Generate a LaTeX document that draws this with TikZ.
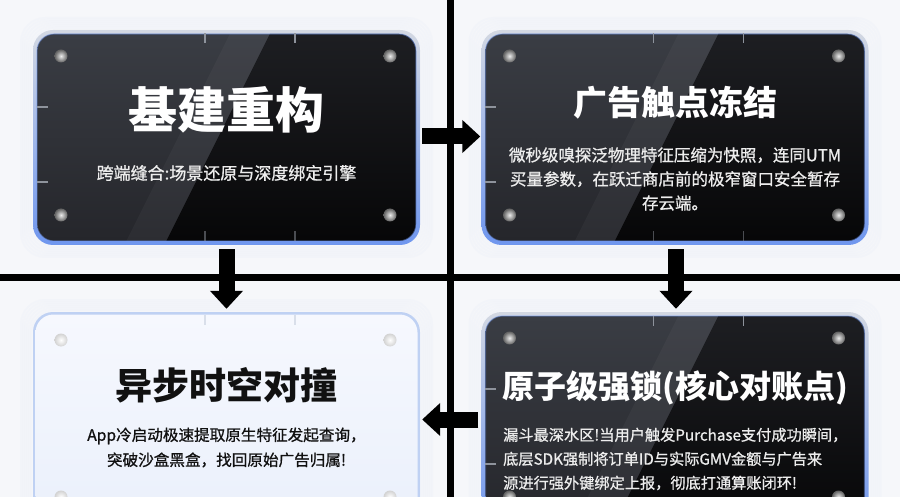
\documentclass[tikz,border=0pt]{standalone}
\usepackage{fontspec}
\setmainfont{Noto Sans CJK SC}
\newfontfamily\medfont{Noto Sans CJK SC}[FakeBold=0.9]
\usetikzlibrary{arrows.meta,calc}
\definecolor{bgc}{HTML}{F6F7FA}
\definecolor{halo}{HTML}{A9BFEF}
\definecolor{frametop}{HTML}{D3D8E2}
\definecolor{framebot}{HTML}{6F96EE}
\definecolor{innertop}{HTML}{3A3D44}
\definecolor{innerbot}{HTML}{25262B}
\definecolor{darktop}{HTML}{1E1F23}
\definecolor{darkbot}{HTML}{060607}
\definecolor{lframe}{HTML}{BFD1F3}
\definecolor{linnertop}{HTML}{F6F8FE}
\definecolor{linnerbot}{HTML}{EAF0FB}
\definecolor{tickc}{HTML}{8E939C}
\definecolor{ltickc}{HTML}{D9DFEA}
\definecolor{bodyw}{HTML}{EDEDED}
\definecolor{titlek}{HTML}{111111}

\tikzset{
  cardbox/.style={draw=none, minimum width=387pt, minimum height=215pt, inner sep=0pt},
  blockarrow/.style={line width=16pt, draw=black, -{Triangle[length=18pt, width=32pt]}},
  gridline/.style={line width=7pt, draw=black},
  titledark/.style={text=white, font=\fontsize{#1}{#1}\selectfont\bfseries, inner sep=0pt},
  titlelight/.style={text=titlek, font=\fontsize{#1}{#1}\selectfont\bfseries, inner sep=0pt},
  bodydark/.style={text=bodyw, align=center, inner sep=0pt},
  bodylight/.style={text=titlek, align=center, inner sep=0pt},
}

% #1 name, #2 cx, #3 cy
\newcommand\cardhalo[2]{%
  \foreach \k in {1,...,6}{
    \draw[rounded corners=24, line width=2pt, draw=halo, opacity=0.045]
      ({#1-193.5-2*\k},{#2-107.5-2*\k}) rectangle ({#1+193.5+2*\k},{#2+107.5+2*\k});
  }
}
\newcommand\darkcard[3]{%
  \node[cardbox] (#1) at (#2,#3) {};
  \cardhalo{#2}{#3}
  \shade[rounded corners=20, top color=frametop, bottom color=framebot]
    ({#2-193.5},{#3-107.5}) rectangle ({#2+193.5},{#3+107.5});
  \shade[rounded corners=17, top color=innertop, bottom color=innerbot]
    ({#2-189.5},{#3-103.5}) rectangle ({#2+189.5},{#3+103.5});
  \begin{scope}
    \clip[rounded corners=17] ({#2-189.5},{#3-103.5}) rectangle ({#2+189.5},{#3+103.5});
    \shade[top color=darktop, bottom color=darkbot]
      ({#2+46.5},{#3-110}) -- ({#2+200},{#3-110}) -- ({#2+200},{#3+110}) -- ({#2-63.5},{#3+110}) -- cycle;
    \fill[white, opacity=0.035]
      ({#2+6.5},{#3-110}) -- ({#2+46.5},{#3-110}) -- ({#2-63.5},{#3+110}) -- ({#2-103.5},{#3+110}) -- cycle;
  \end{scope}
  \draw[rounded corners=17, line width=1.2pt, draw=framebot, opacity=0.45]
    ({#2-189.5},{#3-103.5}) rectangle ({#2+189.5},{#3+103.5});
  \foreach \dx in {-21.5,68.5}{
    \draw[tickc, line width=1.3pt] ({#2+\dx},{#3-104}) -- ({#2+\dx},{#3-94});
    \draw[tickc, line width=1.3pt, opacity=0.5] ({#2+\dx},{#3+104}) -- ({#2+\dx},{#3+94});
  }
  \foreach \dy in {-30.5,44.5}{
    \draw[tickc, line width=1.3pt] ({#2-190},{#3+\dy}) -- ({#2-179},{#3+\dy});
  }
  \foreach \sx/\sy in {-165.5/-81.5, 163.5/-81.5, -165.5/77.5, 163.5/77.5}{
    \shade[inner color=white!85!gray, outer color=gray!75!black] ({#2+\sx},{#3+\sy}) circle (6.5pt);
  }
}

\newcommand\lightcard[3]{%
  \node[cardbox] (#1) at (#2,#3) {};
  \cardhalo{#2}{#3}
  \fill[rounded corners=20, lframe]
    ({#2-193.5},{#3-107.5}) rectangle ({#2+193.5},{#3+107.5});
  \shade[rounded corners=18, top color=linnertop, bottom color=linnerbot]
    ({#2-191},{#3-105}) rectangle ({#2+191},{#3+105});
  \foreach \dx in {-21.5,68.5}{
    \draw[ltickc, line width=1.3pt] ({#2+\dx},{#3-105}) -- ({#2+\dx},{#3-95});
  }
  \foreach \sx/\sy in {-165.5/-79.5, 163.5/-79.5, -165.5/77.5, 163.5/77.5}{
    \shade[inner color=white, outer color=gray!35] ({#2+\sx},{#3+\sy}) circle (6.5pt);
  }
}

\begin{document}
\begin{tikzpicture}[x=1pt, y=-1pt]
\useasboundingbox (0,0) rectangle (900,497);
\clip (0,0) rectangle (900,497);
\fill[bgc] (0,0) rectangle (900,497);

% grid
\draw[gridline] (450.5,0) -- (450.5,497);
\draw[gridline] (0,278) -- (900,278);

% cards
\darkcard{tl}{226.5}{137.5}
\darkcard{tr}{675}{137.5}
\lightcard{bl}{226.5}{419.5}
\darkcard{br}{675}{419.5}

% texts
\node[titledark=49] (tlt) at (226.5,110) {基建重构};
\node[bodydark, font=\medfont\fontsize{17}{24}\selectfont] (tlb) at (226.5,173) {跨端缝合:场景还原与深度绑定引擎};

\node[titledark=34] (trt) at (675,103) {广告触点冻结};
\node[bodydark, font=\medfont\fontsize{16.5}{24}\selectfont] (trb) at (675,179)
  {微秒级嗅探泛物理特征压缩为快照，连同UTM\\买量参数，在跃迁商店前的极窄窗口安全暂存\\存云端。};

\node[titlelight=37] (blt) at (226.5,385) {异步时空对撞};
\node[bodylight, font=\medfont\fontsize{15.6}{25}\selectfont] (blb) at (226.5,447.5)
  {App冷启动极速提取原生特征发起查询，\\突破沙盒黑盒，找回原始广告归属!};

\node[titledark=32] (brt) at (675,388) {原子级强锁(核心对账点)};
\node[bodydark, align=left, anchor=west, font=\medfont\fontsize{15.2}{24}\selectfont] (brb) at (503,459)
  {漏斗最深水区!当用户触发Purchase支付成功瞬间，\\底层SDK强制将订单ID与实际GMV金额与广告来\\源进行强外键绑定上报，彻底打通算账闭环!};

% arrows
\draw[blockarrow] ([xshift=2pt,yshift=1pt]tl.east) -- ([xshift=-1pt,yshift=1pt]tr.west);
\draw[blockarrow] ([yshift=-4pt]tl.south) -- ([yshift=3pt]bl.north);
\draw[blockarrow] ([xshift=1pt,yshift=-4pt]tr.south) -- ([xshift=1pt,yshift=3pt]br.north);
\draw[blockarrow] ([xshift=-3pt]br.west) -- ([xshift=2pt]bl.east);
\end{tikzpicture}
\end{document}
